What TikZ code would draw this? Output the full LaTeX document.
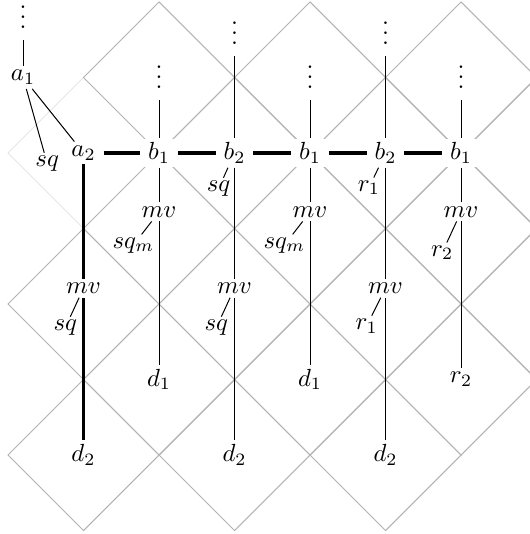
\documentclass[tikz,border=0pt]{standalone}
\usetikzlibrary{calc}
\newcommand\coldots{\vbox{\baselineskip4pt \lineskiplimit0pt \hbox{.}\hbox{.}\hbox{.}}}
\tikzset{
    cell/.style={gray!60},
    faint/.style={gray!20},
    tnode/.style={fill=white, inner xsep=3pt, inner ysep=1.5pt},
    dotsnode/.style={inner xsep=2pt, inner ysep=1.5pt},
    side/.style={inner sep=1pt},
    spine/.style={ultra thick},
}

\begin{document}
\begin{tikzpicture}[x=1.07cm, y=-1.07cm]
    \useasboundingbox (-0.106,-0.026) rectangle (6.905,7.046);
    \draw[faint] (1,1) -- (0,2) -- (1,3);
    \foreach \i/\j in {2/1,4/1,6/1,3/2,5/2,7/2,2/3,4/3,6/3,1/4,3/4,5/4,7/4,2/5,4/5,6/5,1/6,3/6,5/6}
        \draw[cell] (\i-1,\j) -- (\i,\j-1) -- (\i+1,\j) -- (\i,\j+1) -- cycle;
    % left branch
    \node[dotsnode] (va) at (0.2,0.2) {\coldots};
    \node[tnode] (a1) at (0.2,1) {$a_1$};
    \node[tnode] (a2) at (1,2) {$a_2$};
    \node[side] (sa) at (0.52,2.14) {$sq$};
    \draw[shorten <=3pt] (va) -- (a1);
    \draw (a1) -- (sa);
    \draw (a1) -- (a2);
    % columns
    \foreach \i/\lab/\h in {2/b_1/1,3/b_2/0.41,4/b_1/1,5/b_2/0.41,6/b_1/1} {
        \node[tnode] (b\i) at (\i,2) {$\lab$};
        \node[dotsnode] (v\i) at (\i,\h) {\coldots};
        \draw[shorten <=3pt] (v\i) -- (b\i);
    };
    \foreach \i/\y in {1/3.79,2/2.78,3/3.79,4/2.78,5/3.79,6/2.78}
        \node[tnode] (m\i) at (\i,\y) {$mv$};
    \foreach \i/\lab/\y in {1/d_2/6,2/d_1/5,3/d_2/6,4/d_1/5,5/d_2/6,6/r_2/5}
        \node[tnode] (d\i) at (\i,\y) {$\lab$};
    \foreach \i in {2,...,6} \draw (b\i) -- (m\i) -- (d\i);
    \draw[spine] (a2) -- (b2);
    \foreach \i/\k in {2/3,3/4,4/5,5/6} \draw[spine] (b\i) -- (b\k);
    \draw[spine] (a2) -- (m1);
    \draw[spine] (m1) -- (d1);
    % side labels
    \node[side] (s3) at (2.79,2.47) {$sq$};
    \node[side] (s5) at (4.78,2.46) {$r_1$};
    \draw (b3) -- (s3);
    \draw (b5) -- (s5);
    \foreach \i/\lab/\dx/\dy in {1/sq/0.24/0.52,2/sq_m/0.34/0.44,3/sq/0.24/0.52,4/sq_m/0.34/0.44,5/r_1/0.25/0.50,6/r_2/0.25/0.54} {
        \node[side] (t\i) at ($(m\i)+(-\dx,\dy)$) {$\lab$};
        \draw (m\i) -- (t\i);
    };
\end{tikzpicture}
\end{document}
